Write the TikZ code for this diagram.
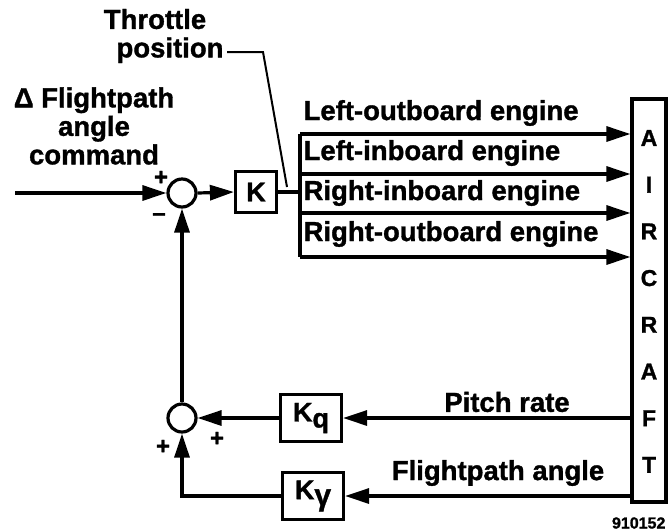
\documentclass[tikz,border=0pt]{standalone}
\usepackage{fontspec}
\setmainfont{Liberation Sans}[BoldFeatures={FakeBold=1.2}]
\usepackage{tikz}
\usetikzlibrary{arrows.meta,positioning,calc}

\begin{document}
\begin{tikzpicture}[x=1pt,y=-1pt,
    line width=3.2pt,
    >={Triangle[length=24pt,width=15pt]},
    lbl/.style={font=\bfseries\fontsize{27.5}{28.5}\selectfont,align=center,inner sep=0pt},
    sgn/.style={font=\bfseries\fontsize{24}{24}\selectfont,inner sep=0pt},
    blk/.style={draw,inner sep=0pt,font=\bfseries\fontsize{27}{27}\selectfont},
    sumnode/.style={draw,circle,inner sep=0pt,minimum size=28pt}]
    \useasboundingbox (0,0) rectangle (668,531);

    % Summing junctions and gains
    \node[sumnode] (s1) at (182,193) {};
    \node[sumnode] (s2) at (182,418) {};
    \node[blk,minimum width=41pt,minimum height=41pt] (k) at (256,192) {K};
    \node[blk,minimum width=61pt,minimum height=47pt] (kq) at (311,418) {K\raisebox{-6pt}{q}};
    \node[blk,minimum width=61pt,minimum height=47pt] (kg) at (313,496) {K\raisebox{-6pt}{\fontsize{30}{30}\selectfont γ}};

    % Aircraft block
    \node[draw,inner sep=0pt,minimum width=34pt,minimum height=403pt] (ac) at (649,300.5) {};
    \foreach \ch [count=\i from 0] in {A,I,R,C,R,A,F,T}
        \node[font=\bfseries\fontsize{23}{23}\selectfont,inner sep=0pt] (ac\i) at (649,138+46.7*\i) {\ch};

    % Input
    \coordinate (in) at (15,193);
    \node[lbl] (cmd) at (94,126) {Δ Flightpath\\angle\\command};
    \draw[->] (in) -- (s1.west);
    \draw[->] (s1.east) -- (k.west);
    \node[sgn] (p1) at (161,178) {+};
    \node[sgn] (m1) at (159,217) {–};

    % Throttle bus
    \coordinate (bus) at (300,192);
    \coordinate (e1) at (300,134);
    \coordinate (e2) at (300,174);
    \coordinate (e3) at (300,213);
    \coordinate (e4) at (300,257);
    \draw (k.east) -- (bus);
    \draw (e1) -- (e4);
    \draw[->] (e1) -- (e1 -| ac.west);
    \draw[->] (e2) -- (e2 -| ac.west);
    \draw[->] (e3) -- (e3 -| ac.west);
    \draw[->] (e4) -- (e4 -| ac.west);
    \node[lbl,anchor=west] (lo) at (302,113) {Left-outboard engine};
    \node[lbl,anchor=west] (li) at (302,153) {Left-inboard engine};
    \node[lbl,anchor=west] (ri) at (302,193) {Right-inboard engine};
    \node[lbl,anchor=west] (ro) at (302,234) {Right-outboard engine};

    % Throttle position callout
    \node[lbl] (thr) at (155,36) {Throttle\\\hspace*{30pt}position};
    \coordinate (tbend) at (263,52);
    \coordinate (tend) at (287,187);
    \draw[line width=2pt] (227,52) -- (tbend) -- (tend);

    % Feedback paths
    \coordinate (pq) at (ac.west |- kq);
    \coordinate (pg) at (ac.west |- kg);
    \draw[->] (pq) -- (kq.east);
    \draw[->] (pg) -- (kg.east);
    \draw[->] (kq.west) -- (s2.east);
    \draw[->] (kg.west) -| (s2.south);
    \draw[->] (s2.north) -- (s1.south);
    \node[lbl] (pr) at (507,402) {Pitch rate};
    \node[lbl] (fpa) at (498,473) {Flightpath angle};
    \node[sgn] (p2) at (217,439) {+};
    \node[sgn] (p3) at (163,447) {+};

    % Figure number
    \node[font=\bfseries\fontsize{16}{16}\selectfont,inner sep=0pt,anchor=east] (fig) at (667,523) {910152};
\end{tikzpicture}
\end{document}
